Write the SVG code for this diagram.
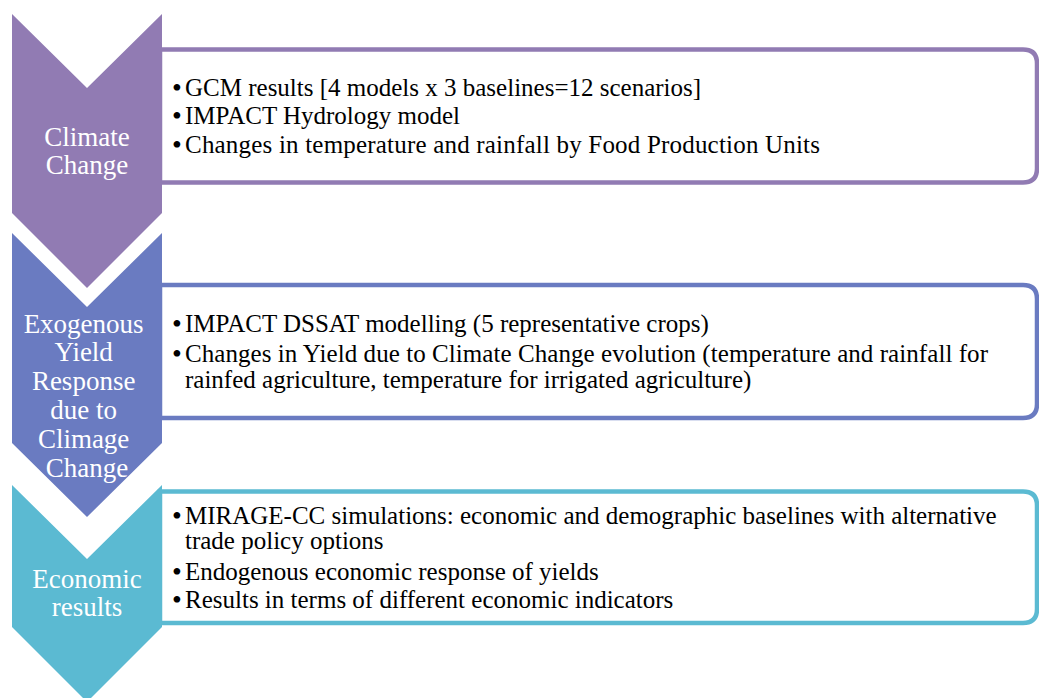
<svg xmlns="http://www.w3.org/2000/svg" width="1039" height="698" viewBox="0 0 1039 698">
  <style>
    .box { fill: #ffffff; stroke-width: 4.5; }
    .label { font-family: "Liberation Serif", "Times New Roman", serif; font-size: 27px; fill: #ffffff; text-anchor: middle; }
    .item { font-family: "Liberation Serif", "Times New Roman", serif; font-size: 25px; fill: #000000; }
    .dot { font-family: "Liberation Serif", "Times New Roman", serif; font-size: 28px; fill: #000000; }
    .s1 { fill: #917BB3; }
    .s2 { fill: #6A7BC1; }
    .s3 { fill: #5BBAD2; }
    .b1 { stroke: #917BB3; }
    .b2 { stroke: #6A7BC1; }
    .b3 { stroke: #5BBAD2; }
  </style>

  <!-- Stage 1: Climate Change -->
  <g id="stage-climate-change">
    <path class="box b1" d="M160,49.5 H1023 Q1037,49.5 1037,63.5 V168.5 Q1037,182.5 1023,182.5 H160 Z"/>
    <path class="s1" d="M12,14 L87,88 L162,14 L162,213 L87,288 L12,213 Z"/>
    <text class="label"><tspan x="87" y="145.5">Climate</tspan><tspan x="87" y="173.5">Change</tspan></text>
    <text class="dot" x="172" y="97">•</text>
    <text class="item" x="185" y="96">GCM results [4 models x 3 baselines=12 scenarios]</text>
    <text class="dot" x="172" y="125">•</text>
    <text class="item" x="185" y="124">IMPACT Hydrology model</text>
    <text class="dot" x="172" y="154">•</text>
    <text class="item" x="185" y="153" textLength="635">Changes in temperature and rainfall by Food Production Units</text>
  </g>

  <!-- Stage 2: Exogenous yield response -->
  <g id="stage-yield-response">
    <path class="box b2" d="M160,285 H1023 Q1037,285 1037,299 V404 Q1037,418 1023,418 H160 Z"/>
    <path class="s2" d="M12,233 L87,307 L162,233 L162,443 L87,517 L12,443 Z"/>
    <text class="label">
      <tspan x="87" y="333">Exogenous</tspan>
      <tspan x="87" y="361">Yield</tspan>
      <tspan x="87" y="390">Response</tspan>
      <tspan x="87" y="419">due to</tspan>
      <tspan x="87" y="448">Climage</tspan>
      <tspan x="87" y="477">Change</tspan>
    </text>
    <text class="dot" x="172" y="333">•</text>
    <text class="item" x="185" y="332">IMPACT DSSAT modelling (5 representative crops)</text>
    <text class="dot" x="172" y="363">•</text>
    <text class="item"><tspan x="185" y="362" textLength="803">Changes in Yield due to Climate Change evolution (temperature and rainfall for</tspan><tspan x="185" y="388">rainfed agriculture, temperature for irrigated agriculture)</tspan></text>
  </g>

  <!-- Stage 3: Economic results -->
  <g id="stage-economic-results">
    <path class="box b3" d="M160,491.5 H1023 Q1037,491.5 1037,505.5 V609 Q1037,623 1023,623 H160 Z"/>
    <path class="s3" d="M12,485 L87,559 L162,485 L162,627 L87,702 L12,627 Z"/>
    <text class="label"><tspan x="87" y="588">Economic</tspan><tspan x="87" y="616">results</tspan></text>
    <text class="dot" x="172" y="525">•</text>
    <text class="item"><tspan x="185" y="524">MIRAGE-CC simulations: economic and demographic baselines with alternative</tspan><tspan x="185" y="549">trade policy options</tspan></text>
    <text class="dot" x="172" y="581">•</text>
    <text class="item" x="185" y="580">Endogenous economic response of yields</text>
    <text class="dot" x="172" y="609">•</text>
    <text class="item" x="185" y="608">Results in terms of different economic indicators</text>
  </g>
</svg>
